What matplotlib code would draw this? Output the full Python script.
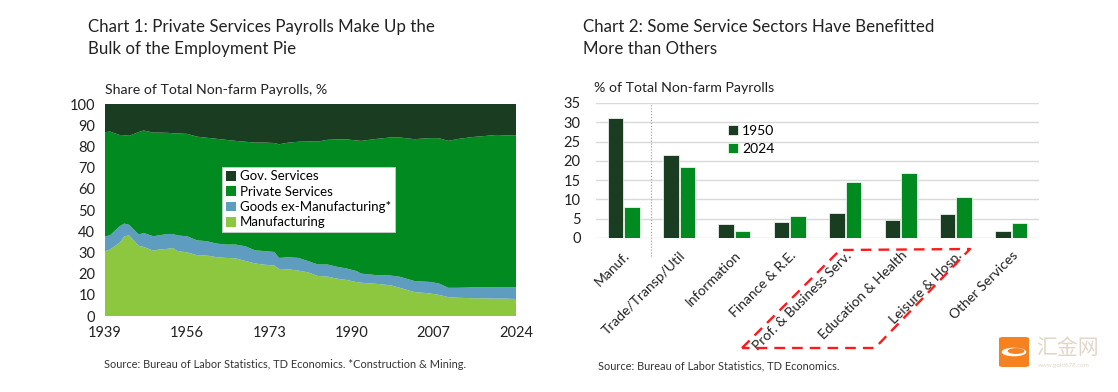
import matplotlib
matplotlib.use("Agg")
import matplotlib.pyplot as plt
from matplotlib.patches import Polygon, FancyBboxPatch, Circle
import numpy as np

plt.rcParams['font.family'] = ['Lato', 'Noto Sans CJK SC', 'DejaVu Sans']

# Chart 1 data: share of total non-farm payrolls, %
years = [1939, 1940, 1942, 1943, 1944, 1946, 1947, 1949, 1950, 1952, 1953, 1954, 1956,
         1958, 1960, 1962, 1964, 1966, 1968, 1970, 1972, 1974, 1975, 1977, 1979, 1981,
         1983, 1985, 1987, 1989, 1991, 1992, 1995, 1998, 2000, 2003, 2006, 2008, 2010,
         2012, 2015, 2018, 2020, 2022, 2024]
manufacturing = [30.6, 31.3, 34.5, 37.6, 38.0, 33.0, 32.6, 30.8, 31.3, 31.7, 32.1, 30.6, 30.0,
                 28.7, 28.5, 27.8, 27.4, 27.2, 26.0, 24.8, 24.2, 23.8, 22.2, 22.0, 21.4, 20.6,
                 18.9, 18.6, 17.6, 17.0, 16.0, 15.7, 15.2, 14.5, 13.3, 11.3, 10.7, 10.0, 8.9,
                 8.6, 8.4, 8.3, 8.2, 8.2, 8.0]
goods_ex_manuf = [7.0, 6.7, 7.8, 6.0, 5.0, 5.4, 6.6, 6.8, 6.7, 7.0, 6.6, 7.4, 7.6,
                  7.0, 6.8, 6.4, 6.3, 6.5, 6.9, 6.2, 6.4, 6.4, 5.2, 5.7, 6.0, 5.3,
                  5.4, 5.7, 5.6, 5.4, 5.2, 4.3, 4.1, 4.6, 5.2, 5.2, 5.4, 5.4, 4.4,
                  4.7, 5.1, 5.3, 5.3, 5.3, 5.5]
private_services = [49.1, 49.0, 43.1, 41.7, 42.0, 48.4, 48.3, 48.9, 48.5, 47.7, 47.5, 48.1, 48.3,
                    48.9, 48.8, 49.4, 49.4, 48.9, 49.3, 50.8, 51.2, 51.4, 53.6, 54.1, 54.8, 56.4,
                    58.0, 58.8, 60.1, 60.9, 61.6, 62.6, 64.2, 65.1, 65.7, 66.9, 67.8, 68.5, 69.3,
                    70.2, 70.9, 71.4, 71.9, 71.7, 71.6]
gov_services = [13.3, 13.0, 14.6, 14.7, 15.0, 13.2, 12.5, 13.5, 13.5, 13.6, 13.8, 13.9, 14.1,
                15.4, 15.9, 16.4, 16.9, 17.4, 17.8, 18.2, 18.2, 18.4, 19.0, 18.2, 17.8, 17.7,
                17.7, 16.9, 16.7, 16.7, 17.2, 17.4, 16.5, 15.8, 15.8, 16.6, 16.1, 16.1, 17.4,
                16.5, 15.6, 15.0, 14.6, 14.8, 14.9]
year_ticks = [1939, 1956, 1973, 1990, 2007, 2024]

# Chart 2 data: % of total non-farm payrolls
sectors = ['Manuf.', 'Trade/Transp/Util', 'Information', 'Finance & R.E.',
           'Prof. & Business Serv.', 'Education & Health', 'Leisure & Hosp.', 'Other Services']
share_1950 = [31.0, 21.4, 3.6, 4.1, 6.5, 4.7, 6.1, 1.8]
share_2024 = [8.1, 18.3, 1.8, 5.8, 14.4, 16.8, 10.6, 3.8]

c_gov = '#1a3d22'
c_priv = '#008a20'
c_goods = '#5e9cc0'
c_manuf = '#8dc63f'
c_text = '#222222'

W, H = 1118, 392
fig = plt.figure(figsize=(W / 100, H / 100), dpi=100)

def fx(px):
    return px / W

def fy(py):
    return 1 - py / H

# ---------- Chart 1 ----------
ax1 = fig.add_axes([fx(105), fy(316), fx(516) - fx(105), fy(104) - fy(316)])
polys = ax1.stackplot(years, manufacturing, goods_ex_manuf, private_services, gov_services,
                      colors=[c_manuf, c_goods, c_priv, c_gov], linewidth=0)
ax1.set_xlim(1939, 2024)
ax1.set_ylim(0, 100)
ax1.set_yticks(range(0, 101, 10))
ax1.set_xticks(year_ticks)
ax1.tick_params(length=0, labelsize=10.5, colors=c_text)
ax1.tick_params(axis='x', pad=7)
ax1.tick_params(axis='y', pad=7)
for s in ax1.spines.values():
    s.set_visible(False)
leg1 = ax1.legend([polys[3], polys[2], polys[1], polys[0]],
                  ['Gov. Services', 'Private Services', 'Goods ex-Manufacturing*', 'Manufacturing'],
                  loc='upper left', bbox_to_anchor=(0.285, 0.705), fontsize=9.5,
                  handlelength=0.75, handleheight=0.75, handletextpad=0.3, labelspacing=0.25,
                  borderpad=0.3, borderaxespad=0, fancybox=False, framealpha=1,
                  edgecolor='#cccccc')
leg1.get_frame().set_linewidth(0.6)

fig.text(fx(88), fy(38), 'Chart 1: Private Services Payrolls Make Up the\nBulk of the Employment Pie',
         fontsize=12.2, color=c_text, va='center', linespacing=1.4)
fig.text(fx(105), fy(90), 'Share of Total Non-farm Payrolls, %', fontsize=10.2,
         color=c_text, va='center')
fig.text(fx(104), fy(364), 'Source: Bureau of Labor Statistics, TD Economics. *Construction & Mining.',
         fontsize=7.9, color='#333333', va='center')

# ---------- Chart 2 ----------
ax2 = fig.add_axes([fx(596), fy(238), fx(1039) - fx(596), fy(103) - fy(238)])
x = np.arange(len(sectors))
bw = 0.28
ax2.bar(x - 0.15, share_1950, bw, color=c_gov, edgecolor='white', linewidth=0.5,
        label='1950', zorder=3)
ax2.bar(x + 0.15, share_2024, bw, color=c_priv, edgecolor='white', linewidth=0.5,
        label='2024', zorder=3)
ax2.set_xlim(-0.5, len(sectors) - 0.5)
ax2.set_ylim(0, 35)
ax2.set_yticks(range(0, 36, 5))
ax2.yaxis.grid(True, color='#d9d9d9', linewidth=1)
ax2.set_axisbelow(True)
for s in ax2.spines.values():
    s.set_visible(False)
ax2.set_xticks(x)
ax2.set_xticklabels(sectors, rotation=45, ha='right', rotation_mode='anchor')
ax2.tick_params(length=0, labelsize=10, colors=c_text)
ax2.tick_params(axis='y', labelsize=10.5, pad=11)
ax2.tick_params(axis='x', pad=8)
ax2.axvline(0.5, ymin=-0.13, ymax=1, color='#999999', linewidth=0.8, linestyle=':',
            clip_on=False)
ax2.legend(loc='upper left', bbox_to_anchor=(0.27, 0.93), fontsize=10, frameon=False,
           handlelength=0.7, handleheight=0.7, handletextpad=0.3, labelspacing=0.45)

fig.text(fx(583), fy(38), 'Chart 2: Some Service Sectors Have Benefitted\nMore than Others',
         fontsize=12.2, color=c_text, va='center', linespacing=1.4)
fig.text(fx(594), fy(88), '% of Total Non-farm Payrolls', fontsize=10.2,
         color=c_text, va='center')
fig.text(fx(598), fy(366), 'Source: Bureau of Labor Statistics, TD Economics.',
         fontsize=7.9, color='#333333', va='center')

# red dashed highlight round the three growth sectors
hl = Polygon([(fx(742), fy(348)), (fx(840), fy(250)), (fx(970), fy(249)), (fx(875), fy(348))],
             closed=True, transform=fig.transFigure, fill=False, edgecolor='#ff1a1a',
             linewidth=1.7, linestyle=(0, (4.5, 3)), joinstyle='round')
fig.add_artist(hl)

# watermark
logo = FancyBboxPatch((fx(999), fy(367)), fx(30), fy(337) - fy(367),
                      boxstyle='round,pad=0,rounding_size=0.004', transform=fig.transFigure,
                      facecolor='#f5821f', edgecolor='none')
fig.add_artist(logo)
fig.add_artist(Circle((fx(1014), fy(352)), 0.011, transform=fig.transFigure,
                      facecolor='white', edgecolor='none'))
fig.add_artist(Circle((fx(1016), fy(351)), 0.0075, transform=fig.transFigure,
                      facecolor='#f5821f', edgecolor='none'))
fig.text(fx(1036), fy(348), '汇金网', fontsize=15, color='#e3d6c8', va='center',
         family=['Noto Sans CJK SC'])
fig.text(fx(1038), fy(366), 'www.gold678.com', fontsize=4.5, color='#e3d6c8', va='center')

fig.savefig('out.png', dpi=100, facecolor='white')
